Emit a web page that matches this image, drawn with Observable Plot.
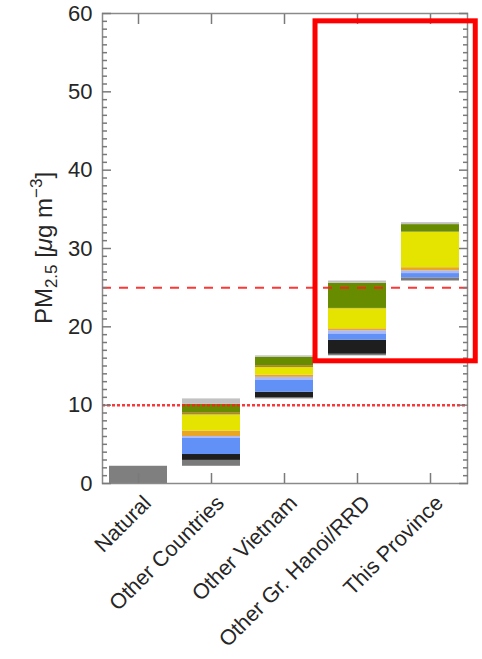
<!DOCTYPE html>
<html>
<head>
<meta charset="utf-8">
<script src="https://cdn.jsdelivr.net/npm/d3@7"></script>
<script src="https://cdn.jsdelivr.net/npm/@observablehq/plot@0.6"></script>
<style>
  html, body { margin: 0; padding: 0; background: #fff; }
  #chart svg { display: block; }
</style>
</head>
<body>
<div id="chart"></div>
<script>
// Source categories, left to right (each bar starts where the previous one ends)
const categories = ["Natural", "Other Countries", "Other Vietnam", "Other Gr. Hanoi/RRD", "This Province"];

// Stacked components, bottom to top
const sectors      = ["natural", "gray", "black", "blue", "lavender", "orange", "yellow", "brown", "green", "lightgray"];
const sectorColors = ["#7f7f7f", "#7a7a7a", "#1e1e1e", "#6190f7", "#a9b9ff", "#e9a625", "#e5e300", "#a9882c", "#688c00", "#c2c2c2"];

// PM2.5 contribution (µg m-3) of each component, in sector order
const natural        = [2.2, 0,    0,    0,    0,    0,    0,    0,    0,    0];
const otherCountries = [0,   0.75, 0.75, 2.05, 0.25, 0.7,  2.05, 0.3,  1.05, 0.7];
const otherVietnam   = [0,   0.15, 0.7,  1.5,  0.4,  0.3,  0.95, 0.25, 1.05, 0.2];
const otherHanoiRRD  = [0,   0.2,  1.8,  0.8,  0.4,  0.25, 2.55, 0.05, 3.2,  0.3];
const thisProvince   = [0,   0.4,  0,    0.55, 0.35, 0.4,  4.5,  0.05, 0.95, 0.25];

// Reference levels
const nationalStandard = 25;   // dashed
const whoGuideline = 10;       // dotted

// Axis ticks
const majorTicks = [0, 10, 20, 30, 40, 50, 60];
const minorTicks = d3.range(0, 61).filter(d => d % 10 !== 0);

// Highlight box around the local sources
const boxCategories = ["Other Gr. Hanoi/RRD", "This Province"];
const boxRange = [15.6, 59];

// Build the waterfall segments
const contributions = [natural, otherCountries, otherVietnam, otherHanoiRRD, thisProvince];
const rows = [];
let base = 0;
categories.forEach((category, i) => {
  let y = base;
  contributions[i].forEach((v, j) => {
    if (v > 0) {
      rows.push({category, sector: sectors[j], y1: y, y2: y + v});
      y += v;
    }
  });
  base = y;
});

// Inward-pointing tick marks (no text)
const tickOnly = {fill: "none", label: null, stroke: "#7a7a7a", strokeWidth: 1.5};

const plot = Plot.plot({
  width: 482,
  height: 659,
  marginLeft: 102,
  marginRight: 15,
  marginTop: 13,
  marginBottom: 176,
  style: {fontFamily: "'Liberation Sans', Arial, Helvetica, sans-serif", color: "#262626", background: "#fff", overflow: "visible"},
  x: {domain: categories, paddingInner: 0.2, paddingOuter: 0.1},
  y: {domain: [0, 60]},
  color: {domain: sectors, range: sectorColors},
  marks: [
    Plot.barY(rows, {x: "category", y1: "y1", y2: "y2", fill: "sector"}),
    Plot.ruleY([nationalStandard], {stroke: "#ff2020", strokeWidth: 2, strokeDasharray: "9,8", strokeOpacity: 0.9}),
    Plot.ruleY([whoGuideline], {stroke: "#ff2020", strokeWidth: 2.5, strokeDasharray: "3,2", strokeOpacity: 0.9}),
    Plot.frame({stroke: "#8a8a8a", strokeWidth: 1.5}),
    Plot.axisY({anchor: "left", ticks: majorTicks, tickSize: -9, ...tickOnly}),
    Plot.axisY({anchor: "left", ticks: minorTicks, tickSize: -5, ...tickOnly}),
    Plot.axisY({anchor: "right", ticks: majorTicks, tickSize: -9, ...tickOnly}),
    Plot.axisY({anchor: "right", ticks: minorTicks, tickSize: -5, ...tickOnly}),
    Plot.axisX({anchor: "bottom", tickSize: -10, ...tickOnly}),
    Plot.axisX({anchor: "top", tickSize: -10, ...tickOnly}),
    Plot.axisY({anchor: "left", ticks: majorTicks, tickSize: 0, tickPadding: 10, fontSize: 22, label: null}),
    Plot.axisX({anchor: "bottom", tickRotate: -45, tickSize: 0, tickPadding: 0, fontSize: 21.5, dx: 9, dy: 16, label: null})
  ]
});

document.getElementById("chart").appendChild(plot);

const ns = "http://www.w3.org/2000/svg";
const xs = plot.scale("x");
const ys = plot.scale("y");

// Y axis title with sub/superscripts
const cy = (ys.range[0] + ys.range[1]) / 2;
const title = document.createElementNS(ns, "text");
title.setAttribute("transform", `translate(52,${cy}) rotate(-90)`);
title.setAttribute("text-anchor", "middle");
title.setAttribute("font-size", 24);
title.setAttribute("fill", "#262626");
title.setAttribute("font-family", "'Liberation Sans', Arial, sans-serif");
const parts = [
  {t: "PM"},
  {t: "2.5", size: 17, dy: 5},
  {t: " [", dy: -5},
  {t: "\u03bc", italic: true},
  {t: "g m"},
  {t: "\u22123", size: 17, dy: -10},
  {t: "]", dy: 10}
];
for (const p of parts) {
  const s = document.createElementNS(ns, "tspan");
  s.textContent = p.t;
  if (p.size) s.setAttribute("font-size", p.size);
  if (p.dy) s.setAttribute("dy", p.dy);
  if (p.italic) s.setAttribute("font-style", "italic");
  title.appendChild(s);
}
plot.appendChild(title);

// Red highlight box
const center = c => xs.apply(c) + xs.bandwidth / 2;
const bx1 = center(boxCategories[0]) - 0.575 * xs.step;
const bx2 = center(boxCategories[1]) + 0.62 * xs.step;
const by1 = ys.apply(boxRange[1]);
const by2 = ys.apply(boxRange[0]);
const box = document.createElementNS(ns, "rect");
box.setAttribute("x", bx1);
box.setAttribute("y", by1);
box.setAttribute("width", bx2 - bx1);
box.setAttribute("height", by2 - by1);
box.setAttribute("fill", "none");
box.setAttribute("stroke", "#ff0000");
box.setAttribute("stroke-width", 5);
plot.appendChild(box);
</script>
</body>
</html>
